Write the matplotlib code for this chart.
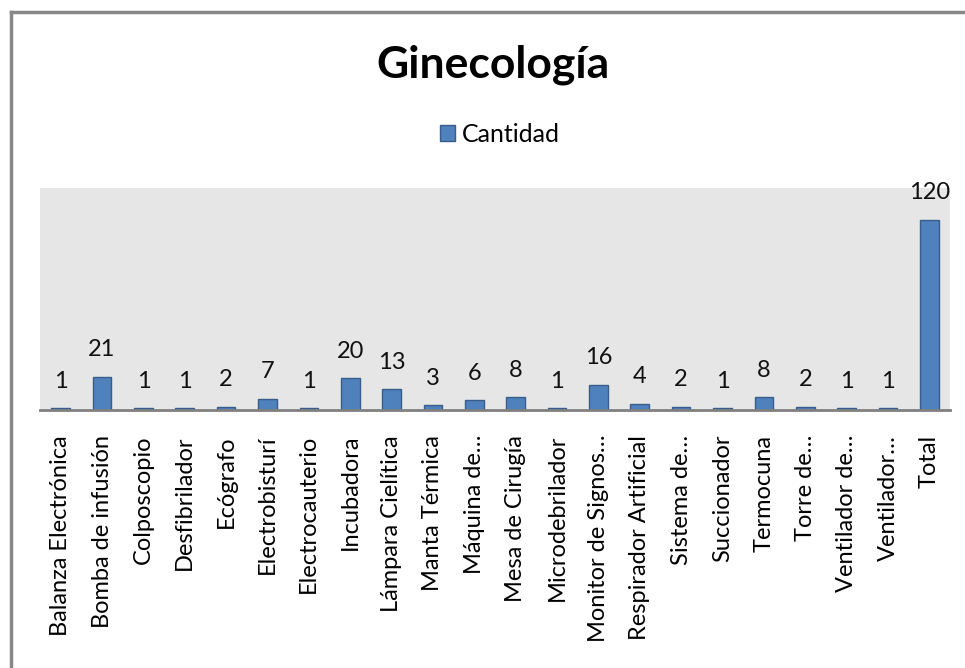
import matplotlib.pyplot as plt
from matplotlib.lines import Line2D
from matplotlib.patches import Patch

plt.rcParams['font.family'] = ['Lato', 'DejaVu Sans']

categories = ['Balanza Electrónica', 'Bomba de infusión', 'Colposcopio', 'Desfibrilador',
              'Ecógrafo', 'Electrobisturí', 'Electrocauterio', 'Incubadora',
              'Lámpara Cielítica', 'Manta Térmica', 'Máquina de…', 'Mesa de Cirugía',
              'Microdebrilador', 'Monitor de Signos…', 'Respirador Artificial',
              'Sistema de…', 'Succionador', 'Termocuna', 'Torre de…',
              'Ventilador de…', 'Ventilador…', 'Total']
cantidad = [1, 21, 1, 1, 2, 7, 1, 20, 13, 3, 6, 8, 1, 16, 4, 2, 1, 8, 2, 1, 1, 120]

fig = plt.figure(figsize=(9.65, 6.68), dpi=100)
ax = fig.add_axes([40 / 965, 258 / 668, 910 / 965, 222 / 668])
ax.set_facecolor('#E6E6E6')

x = range(len(categories))
ax.bar(x, cantidad, width=0.45, color='#4F81BD', edgecolor='#385D8A', linewidth=1)
for xi, v in zip(x, cantidad):
    ax.annotate(str(v), (xi, v), xytext=(0, 12), textcoords='offset points',
                ha='center', va='bottom', fontsize=17, color='#111111')

ax.set_xlim(-0.5, len(categories) - 0.5)
ax.set_ylim(0, 140)
ax.set_yticks([])
ax.set_xticks(list(x))
ax.set_xticklabels(categories, rotation=90, fontsize=17)
ax.tick_params(axis='x', length=0, pad=18)
for s in ['top', 'right', 'left']:
    ax.spines[s].set_visible(False)
ax.spines['bottom'].set_color('#808080')
ax.spines['bottom'].set_linewidth(2)

fig.text(493 / 965, 1 - 65 / 668, 'Ginecología', ha='center', va='center',
         fontsize=32, fontweight='bold')
fig.legend(handles=[Patch(facecolor='#4F81BD', edgecolor='#385D8A', label='Cantidad')],
           loc='center', bbox_to_anchor=(500 / 965, 1 - 134 / 668), frameon=False,
           fontsize=18, handlelength=0.6, handleheight=0.6, handletextpad=0.3)

# border of the chart area (only top and left visible)
fig.add_artist(Line2D([11 / 965, 11 / 965], [0, 1 - 12 / 668], transform=fig.transFigure,
                      color='#888888', linewidth=2.5))
fig.add_artist(Line2D([11 / 965, 1], [1 - 12 / 668, 1 - 12 / 668], transform=fig.transFigure,
                      color='#888888', linewidth=2.5))

fig.savefig('out.png', dpi=100)
